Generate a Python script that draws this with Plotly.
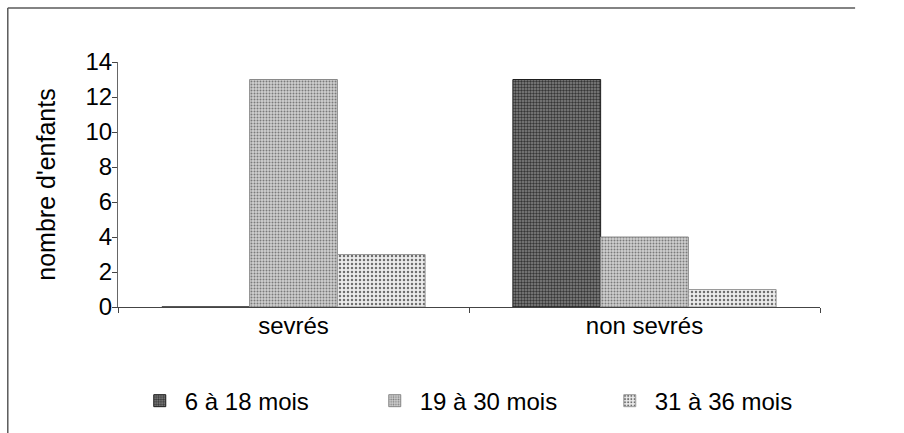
import plotly.graph_objects as go

categories = ["sevrés", "non sevrés"]
series_names = ["6 à 18 mois", "19 à 30 mois", "31 à 36 mois"]
v_6_18 = [0, 13]
v_19_30 = [13, 4]
v_31_36 = [3, 1]
y_ticks = [0, 2, 4, 6, 8, 10, 12, 14]

styles = [
    dict(bg="#858585", fg="#363636", shape=".", size=3, sol=0.5, line="#1e1e1e"),
    dict(bg="#d0d0d0", fg="#7a7a7a", shape=".", size=3, sol=0.35, line="#8a8a8a"),
    dict(bg="#ececec", fg="#6e6e6e", shape=".", size=4, sol=0.3, line="#9a9a9a"),
]

fig = go.Figure()
for name, vals, st in zip(series_names, [v_6_18, v_19_30, v_31_36], styles):
    fig.add_trace(go.Bar(
        x=categories, y=vals, name=name,
        marker=dict(
            color=st["bg"],
            line=dict(color=st["line"], width=1),
            pattern=dict(shape=st["shape"], bgcolor=st["bg"], fgcolor=st["fg"],
                         size=st["size"], solidity=st["sol"], fillmode="replace"),
        ),
    ))

font_family = "Liberation Sans, Arial, sans-serif"
fig.update_layout(
    width=904, height=433,
    margin=dict(l=118, r=84, t=62, b=126, autoexpand=False),
    paper_bgcolor="white", plot_bgcolor="white",
    barmode="group", bargap=0.25, bargroupgap=0,
    font=dict(family=font_family, size=24, color="#000000"),
    showlegend=True,
    legend=dict(orientation="h", x=0.526, xanchor="center", y=-0.384, yanchor="middle",
                font=dict(size=24), traceorder="normal", itemwidth=40, entrywidth=180),
    shapes=[
        dict(type="line", xref="paper", yref="paper", x0=-0.157, x1=1.05, y0=1.2204, y1=1.2204,
             line=dict(color="#5a5a5a", width=1.5)),
        dict(type="line", xref="paper", yref="paper", x0=-0.157, x1=-0.157, y0=1.2204, y1=-0.6,
             line=dict(color="#5a5a5a", width=1.5)),
    ],
)
fig.update_xaxes(showline=True, linecolor="#444444", linewidth=1, ticks="outside",
                 ticklen=5, tickcolor="#444444", tickson="boundaries", showgrid=False,
                 tickfont=dict(size=24), ticklabelstandoff=-3)
fig.update_yaxes(range=[0, 14], tickvals=y_ticks, showline=True, linecolor="#666666",
                 linewidth=1, ticks="outside", ticklen=5, tickcolor="#444444", showgrid=False,
                 zeroline=False, tickfont=dict(size=24), ticklabelstandoff=-5,
                 title=dict(text="nombre d'enfants", font=dict(size=25), standoff=22))

fig.write_html("out.html", config={"displayModeBar": False},
               post_script="document.body.style.margin='0';document.body.style.overflow='hidden';")
